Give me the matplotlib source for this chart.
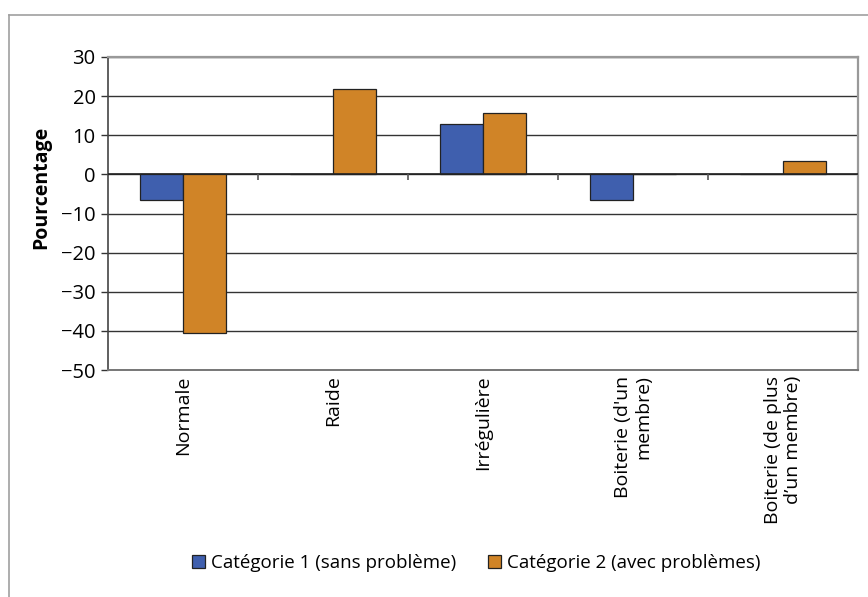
import numpy as np
import matplotlib
matplotlib.use("Agg")
import matplotlib.pyplot as plt
from matplotlib.patches import Rectangle

categories = ["Normale", "Raide", "Irrégulière", "Boiterie (d'un\nmembre)",
              "Boiterie (de plus\nd’un membre)"]
cat1 = [-6.5, 0, 12.9, -6.5, 0]
cat2 = [-40.6, 21.9, 15.6, 0, 3.3]
series_names = ["Catégorie 1 (sans problème)", "Catégorie 2 (avec problèmes)"]
yticks = [30, 20, 10, 0, -10, -20, -30, -40, -50]

blue = "#3f5fae"
orange = "#d08427"

plt.rcParams["font.family"] = ["Open Sans", "DejaVu Sans"]

fig = plt.figure(figsize=(8.68, 5.97), dpi=100)
W, H = 868, 597

# outer frame (top and left edges only visible)
fig.add_artist(plt.Line2D([9 / W, 1], [1 - 15 / H, 1 - 15 / H], color="#a0a0a0", lw=1.2))
fig.add_artist(plt.Line2D([9 / W, 9 / W], [0, 1 - 15 / H], color="#a0a0a0", lw=1.2))

ax = fig.add_axes([108 / W, 1 - 370 / H, 750 / W, 313 / H])

x = np.arange(len(categories))
bw = 0.287
ax.bar(x - bw / 2, cat1, bw, color=blue, edgecolor="#222222", linewidth=0.9,
       label=series_names[0], zorder=3)
ax.bar(x + bw / 2, cat2, bw, color=orange, edgecolor="#222222", linewidth=0.9,
       label=series_names[1], zorder=3)

ax.set_xlim(-0.5, len(categories) - 0.5)
ax.set_ylim(-50, 30)
ax.set_yticks(yticks)
ax.set_yticklabels([str(v).replace("-", "\u2212") for v in yticks], fontsize=14.5)
ax.yaxis.grid(True, color="#333333", linewidth=1.0, zorder=0)
ax.tick_params(axis="y", length=5, width=1, color="#333333", pad=4)

ax.set_xticks(x)
ax.set_xticklabels(categories, rotation=90, fontsize=14, va="top", ha="center",
                   multialignment="right", linespacing=1.2)
ax.tick_params(axis="x", length=0, pad=4)

# zero line and category separator ticks
ax.axhline(0, color="#222222", linewidth=1.2, zorder=4)
ax.vlines(x[:-1] + 0.5, -1.5, 0, color="#555555", linewidth=1.2, zorder=4)

for side in ["top", "right"]:
    ax.spines[side].set_color("#999999")
    ax.spines[side].set_linewidth(1.6)
ax.spines["left"].set_color("#444444")
ax.spines["left"].set_linewidth(1.2)
ax.spines["bottom"].set_color("#777777")
ax.spines["bottom"].set_linewidth(1.4)

ax.set_ylabel("Pourcentage", fontsize=14, fontweight="bold")
ax.yaxis.set_label_coords(-0.076, 0.585)

handles = [Rectangle((0, 0), 1, 1, facecolor=blue, edgecolor="#222222", lw=0.9),
           Rectangle((0, 0), 1, 1, facecolor=orange, edgecolor="#222222", lw=0.9)]
fig.legend(handles, series_names, loc="center", bbox_to_anchor=(476 / W, 1 - 563 / H),
           ncol=2, frameon=False, fontsize=13.5, handlelength=0.7, handleheight=0.7,
           handletextpad=0.3, columnspacing=1.7)

fig.savefig("out.png", dpi=100)
